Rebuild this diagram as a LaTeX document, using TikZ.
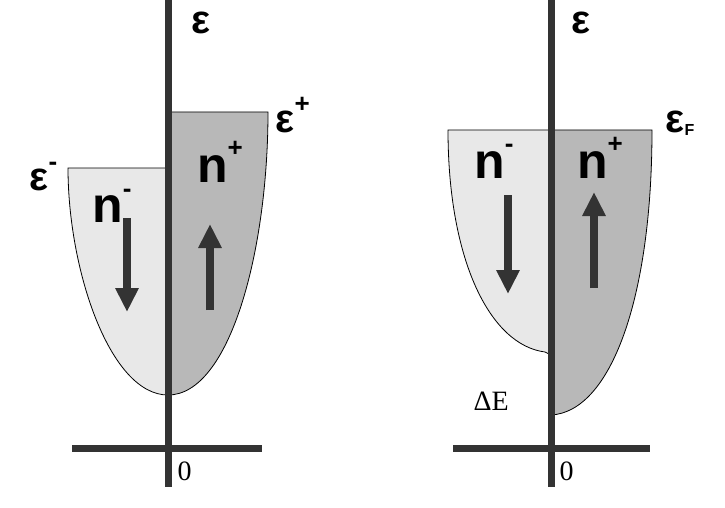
\documentclass[tikz,border=0pt]{standalone}
\usepackage{fontspec}
\setmainfont{Liberation Serif}
\newfontfamily\sfb{Liberation Sans}
\usetikzlibrary{arrows.meta}
\definecolor{lt}{gray}{0.91}
\definecolor{dk}{gray}{0.72}
\definecolor{ax}{gray}{0.2}
\newcommand{\sups}[1]{\raisebox{0.5em}{\fontsize{26}{26}\selectfont #1}}
\tikzset{axis/.style={line width=7pt,ax},
 region/.style={draw=black,line width=0.8pt},
 spin/.style={line width=8pt,ax,-{Triangle[length=24pt,width=22pt]}},
 big/.style={font=\sfb\bfseries\fontsize{50}{50}\selectfont,anchor=base},
 eps/.style={font=\sfb\bfseries\fontsize{40}{40}\selectfont,anchor=base west},
 num/.style={font=\fontsize{28}{28}\selectfont,anchor=base west}}
\begin{document}
\begin{tikzpicture}[x=1pt,y=-1pt]
\useasboundingbox (0,0) rectangle (725,508);
% left panel
\fill[lt,region] (168,168) -- (68,168) .. controls (68,270) and (110,395) .. (168,395) -- cycle;
\fill[dk,region] (168,112) -- (268,112) .. controls (268,250) and (230,395) .. (168,395) -- cycle;
\draw[axis] (168,0) -- (168,487);
\draw[axis] (72,448) -- (262,448);
\node[eps] at (188,34) {ε};
\node[eps] at (272,132) {ε\sups{+}};
\node[eps] at (26,190) {ε\sups{-}};
\node[big] at (112,222) {n\sups{\bfseries -}};
\node[big] at (220,182) {n\sups{\bfseries +}};
\draw[spin] (127,218) -- (127,312);
\draw[spin] (210,310) -- (210,224);
\node[num] at (174,480) {0};
% right panel
\fill[lt,region] (551,130) -- (448,130) .. controls (448,260) and (490,345) .. (545,352) -- (551,355) -- cycle;
\fill[dk,region] (551,130) -- (652,130) .. controls (652,300) and (610,412) .. (551,415) -- cycle;
\draw[axis] (551,0) -- (551,487);
\draw[axis] (453,448) -- (650,448);
\node[eps] at (568,34) {ε};
\node[eps] at (662,132) {ε\raisebox{-3pt}{\fontsize{16}{16}\selectfont F}};
\node[big] at (494,178) {n\sups{\bfseries -}};
\node[big] at (600,178) {n\sups{\bfseries +}};
\draw[spin] (508,195) -- (508,294);
\draw[spin] (594,288) -- (594,192);
\node[num] at (470,410) {ΔE};
\node[num] at (556,480) {0};
\end{tikzpicture}
\end{document}
